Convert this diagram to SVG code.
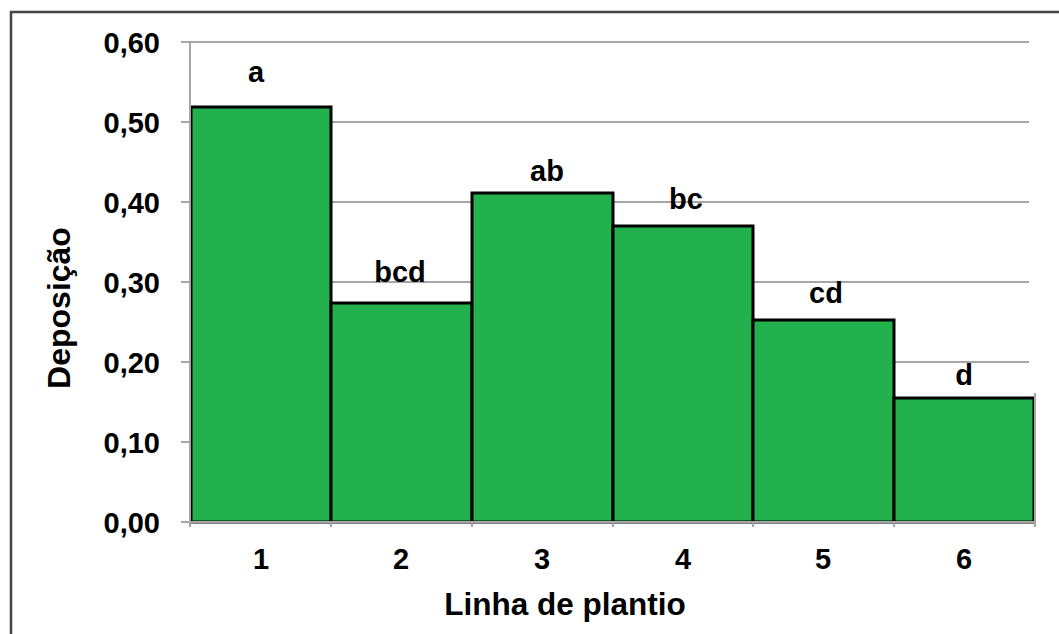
<svg xmlns="http://www.w3.org/2000/svg" width="1059" height="634" viewBox="0 0 1059 634">
<style>
text{font-family:"Liberation Sans",Arial,sans-serif;font-weight:bold;fill:#000;}
.yl{font-size:29px;text-anchor:end;}
.xl{font-size:29px;text-anchor:middle;}
.bl{font-size:29px;text-anchor:middle;}
.grid{stroke:#a6a6a6;stroke-width:2;fill:none;}
.bar{fill:#22b14c;stroke:#000;stroke-width:3;}
</style>
<rect x="0" y="0" width="1059" height="634" fill="#fff"/>
<rect x="11" y="12" width="1070" height="640" fill="none" stroke="#444" stroke-width="2.5"/>
<g id="grid" class="grid">
<path d="M181 42H1029M181 122H1029M181 202H1029M181 282H1029M181 362H1029M181 442H1029"/>
</g>
<g id="y-labels">
<text class="yl" x="160" y="53">0,60</text>
<text class="yl" x="160" y="133">0,50</text>
<text class="yl" x="160" y="213">0,40</text>
<text class="yl" x="160" y="293">0,30</text>
<text class="yl" x="160" y="373">0,20</text>
<text class="yl" x="160" y="453">0,10</text>
<text class="yl" x="160" y="533">0,00</text>
</g>
<g id="bar1"><rect class="bar" x="191" y="107" width="140" height="415"/><text class="bl" x="256" y="82">a</text></g>
<g id="bar2"><rect class="bar" x="331" y="303" width="141" height="219"/><text class="bl" x="400" y="282">bcd</text></g>
<g id="bar3"><rect class="bar" x="472" y="193" width="141" height="329"/><text class="bl" x="547" y="181">ab</text></g>
<g id="bar4"><rect class="bar" x="613" y="226" width="140" height="296"/><text class="bl" x="686" y="209">bc</text></g>
<g id="bar5"><rect class="bar" x="753" y="320" width="141" height="202"/><text class="bl" x="826" y="303">cd</text></g>
<g id="bar6"><rect class="bar" x="894" y="398" width="140" height="124"/><text class="bl" x="964" y="385">d</text></g>
<g id="axes" class="grid">
<path d="M1035 393V527"/>
<path d="M190 42V527M181 522H1035"/>
<path d="M331 522V527M472 522V527M613 522V527M753 522V527M894 522V527M181 42H190M181 122H190M181 202H190M181 282H190M181 362H190M181 442H190"/>
</g>
<g id="x-labels">
<text class="xl" x="261" y="569">1</text>
<text class="xl" x="401" y="569">2</text>
<text class="xl" x="542" y="569">3</text>
<text class="xl" x="683" y="569">4</text>
<text class="xl" x="823" y="569">5</text>
<text class="xl" x="964" y="569">6</text>
</g>
<text id="x-title" x="565" y="615" font-size="31.5" text-anchor="middle">Linha de plantio</text>
<text id="y-title" transform="translate(70,308) rotate(-90)" font-size="32" text-anchor="middle">Deposição</text>
</svg>
